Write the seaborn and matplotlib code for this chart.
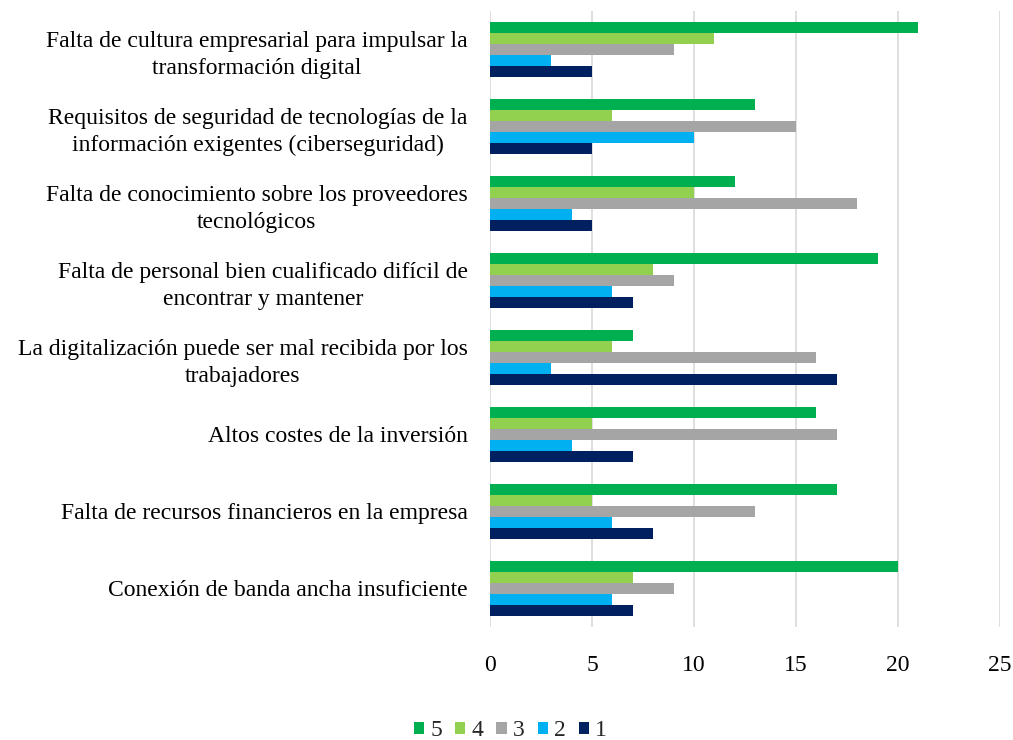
import pandas as pd
import matplotlib.pyplot as plt
import seaborn as sns


# Data
categories = [
    "Falta de cultura empresarial para impulsar la\ntransformación digital",
    "Requisitos de seguridad de tecnologías de la\ninformación exigentes (ciberseguridad)",
    "Falta de conocimiento sobre los proveedores\ntecnológicos",
    "Falta de personal bien cualificado difícil de\nencontrar y mantener",
    "La digitalización puede ser mal recibida por los\ntrabajadores",
    "Altos costes de la inversión",
    "Falta de recursos financieros en la empresa",
    "Conexión de banda ancha insuficiente",
]
series_names = ["5", "4", "3", "2", "1"]
vals_5 = [21, 13, 12, 19, 7, 16, 17, 20]
vals_4 = [11, 6, 10, 8, 6, 5, 5, 7]
vals_3 = [9, 15, 18, 9, 16, 17, 13, 9]
vals_2 = [3, 10, 4, 6, 3, 4, 6, 6]
vals_1 = [5, 5, 5, 7, 17, 7, 8, 7]
x_ticks = [0, 5, 10, 15, 20, 25]

colors = ["#00B050", "#92D050", "#A5A5A5", "#00B0F0", "#002060"]


# Long-form table
rows = []
for name, vals in zip(series_names, [vals_5, vals_4, vals_3, vals_2, vals_1]):
    for cat, v in zip(categories, vals):
        rows.append({"Categoria": cat, "Serie": name, "Valor": v})
df = pd.DataFrame(rows)


sns.set_style("white")
plt.rcParams["font.family"] = ["Liberation Serif", "DejaVu Serif"]

fig = plt.figure(figsize=(10.13, 7.40), dpi=100)
ax = fig.add_axes([0.4837, 0.153, 0.5035, 0.832])

sns.barplot(
    data=df,
    x="Valor",
    y="Categoria",
    hue="Serie",
    hue_order=series_names,
    order=categories,
    palette=colors,
    orient="h",
    width=0.72,
    saturation=1,
    edgecolor="none",
    ax=ax,
)

ax.set_xlim(0, 25)
ax.set_xticks(x_ticks)
ax.set_xlabel("")
ax.set_ylabel("")
ax.grid(axis="x", color="#D9D9D9", linewidth=1.2)
ax.set_axisbelow(True)
for s in ax.spines.values():
    s.set_visible(False)

ax.tick_params(axis="x", labelsize=17, pad=20, length=0, colors="black")
ax.tick_params(axis="y", labelsize=17, pad=16, length=0, colors="black")
for lab in ax.get_yticklabels():
    lab.set_multialignment("center")
    lab.set_linespacing(1.35)

ax.legend(
    loc="center",
    bbox_to_anchor=(0.04, -0.169),
    ncol=5,
    frameon=False,
    fontsize=17,
    handlelength=0.45,
    handleheight=0.45,
    handletextpad=0.25,
    columnspacing=0.55,
)

fig.savefig("out.png", dpi=100)
